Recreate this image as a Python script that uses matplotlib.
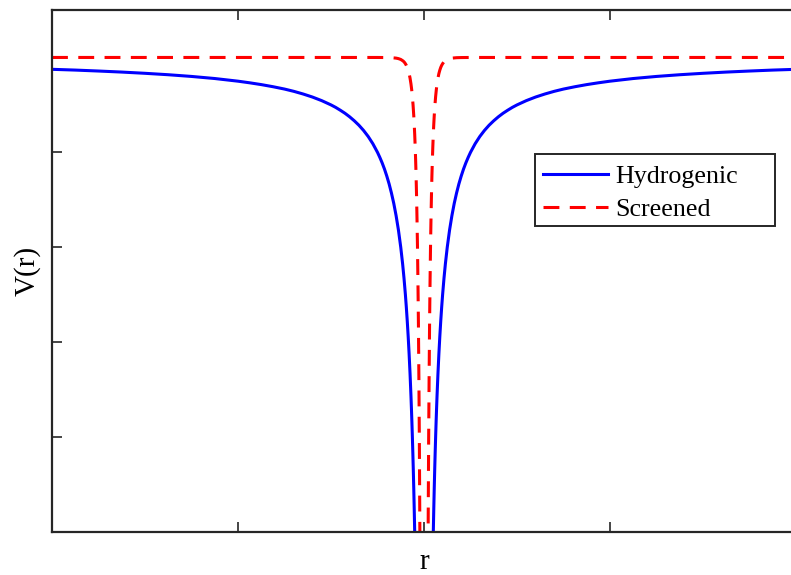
import matplotlib
matplotlib.use("Agg")
import matplotlib.pyplot as plt
from matplotlib.patches import Rectangle
import numpy as np

# Radial samples (positive side); curves are mirrored about r = 0
r_h = [0.19, 0.20, 0.21, 0.22, 0.23, 0.24, 0.25, 0.26, 0.27, 0.28, 0.30, 0.32,
       0.34, 0.36, 0.38, 0.40, 0.43, 0.46, 0.50, 0.55, 0.60, 0.65, 0.70, 0.75,
       0.80, 0.85, 0.90, 0.95, 1.00, 1.10, 1.20, 1.30, 1.40, 1.50, 1.60, 1.70,
       1.80, 1.90, 2.00, 2.20, 2.40, 2.60, 2.80, 3.00, 3.25, 3.50, 3.75, 4.00,
       4.50, 5.00, 5.50, 6.00, 6.50, 7.00, 7.50, 8.00]
v_h = [-5.263, -5.000, -4.762, -4.545, -4.348, -4.167, -4.000, -3.846, -3.704,
       -3.571, -3.333, -3.125, -2.941, -2.778, -2.632, -2.500, -2.326, -2.174,
       -2.000, -1.818, -1.667, -1.538, -1.429, -1.333, -1.250, -1.176, -1.111,
       -1.053, -1.000, -0.909, -0.833, -0.769, -0.714, -0.667, -0.625, -0.588,
       -0.556, -0.526, -0.500, -0.455, -0.417, -0.385, -0.357, -0.333, -0.308,
       -0.286, -0.267, -0.250, -0.222, -0.200, -0.182, -0.167, -0.154, -0.143,
       -0.133, -0.125]

r_s = [0.08, 0.09, 0.10, 0.11, 0.12, 0.13, 0.14, 0.15, 0.16, 0.17, 0.18, 0.19,
       0.20, 0.21, 0.22, 0.235, 0.25, 0.265, 0.28, 0.30, 0.32, 0.34, 0.36,
       0.38, 0.40, 0.425, 0.45, 0.50, 0.55, 0.60, 0.70, 0.80, 1.00, 8.00]
v_s = [-6.04, -4.90, -4.03, -3.37, -2.80, -2.37, -2.00, -1.71, -1.46, -1.25,
       -1.08, -0.936, -0.81, -0.706, -0.615, -0.503, -0.412, -0.339, -0.280,
       -0.218, -0.170, -0.134, -0.105, -0.083, -0.066, -0.049, -0.037, -0.021,
       -0.0123, -0.007, -0.0025, -0.001, -0.0001, 0.0]

series_labels = ["Hydrogenic", "Screened"]


def mirrored(r, v):
    r = np.asarray(r)
    v = np.asarray(v)
    return np.concatenate([-r[::-1], r]), np.concatenate([v[::-1], v])


plt.rcParams["font.family"] = ["Liberation Serif", "DejaVu Serif"]

W, H = 791, 575
fig = plt.figure(figsize=(W / 100, H / 100), dpi=100)
ax = fig.add_axes([52 / W, (H - 532) / H, 744 / W, 522 / H])

xh, yh = mirrored(r_h, v_h)
xs, ys = mirrored(r_s, v_s)
ax.plot(xh, yh, color="#0000ff", lw=2.2, label=series_labels[0])
ax.plot(xs, ys, color="#ff0000", lw=2.2, linestyle=(0, (5.2, 3.4)),
        label=series_labels[1])

ax.set_xlim(-8, 8)
ax.set_ylim(-5, 0.5)
ax.set_xticks([-8, -4, 0, 4, 8])
ax.set_yticks([-5, -4, -3, -2, -1, 0])
ax.set_xticklabels([])
ax.set_yticklabels([])

edge = "#262626"
for s in ax.spines.values():
    s.set_color(edge)
    s.set_linewidth(1.6)
ax.spines["right"].set_visible(False)
ax.tick_params(direction="in", length=7, width=1.2, colors=edge,
               top=True, right=False)

ax.set_xlabel("r", fontsize=21, labelpad=8.5)
ax.set_ylabel("V(r)", fontsize=21, labelpad=5)

# Legend box (MATLAB-style, with wide right margin)
ax.add_patch(Rectangle((0.6492, 0.5862), 0.3226, 0.1379,
                       transform=ax.transAxes, facecolor="white",
                       edgecolor=edge, linewidth=1.4, zorder=4))
leg = ax.legend(loc="upper left", bbox_to_anchor=(0.646, 0.724),
                borderaxespad=0, fontsize=18.7, frameon=False,
                handlelength=2.5, handletextpad=0.3, borderpad=0.4,
                labelspacing=0.39)
leg.set_zorder(5)

fig.savefig("out.png", dpi=100)
